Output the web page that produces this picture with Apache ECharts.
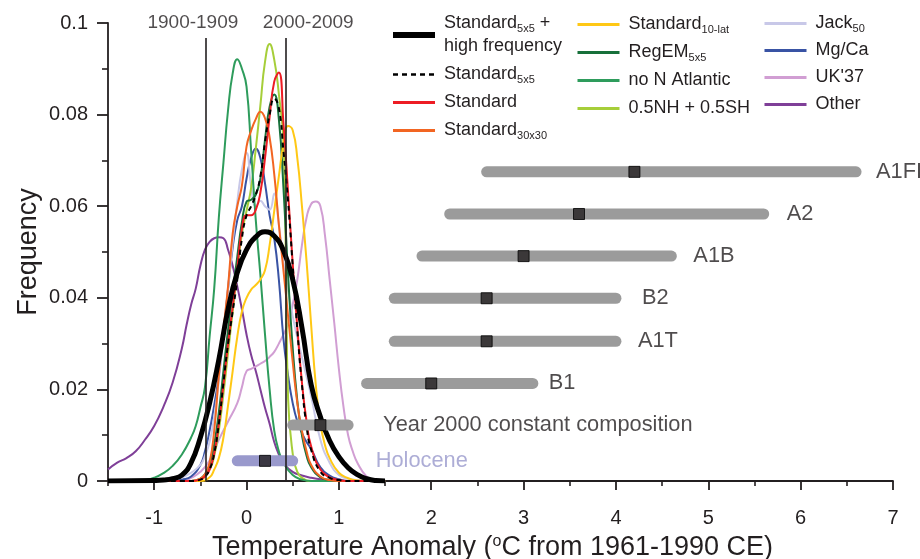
<!DOCTYPE html>
<html><head><meta charset="utf-8">
<script src="https://cdn.jsdelivr.net/npm/echarts@6/dist/echarts.min.js"></script>
<style>html,body{margin:0;padding:0;background:#fff}#c{width:920px;height:559px}</style>
</head><body><div id="c"></div>
<script>
const FONT = '"Liberation Sans", Arial, Helvetica, sans-serif';
const INK = '#231f20';

// ---- distribution curves: [temperature anomaly (°C), frequency] ----
const otherCurve = [[-1.5,0.0025],[-1.4,0.0040],[-1.3,0.0050],[-1.2,0.0065],[-1.1,0.0090],[-1.0,0.0120],[-0.9,0.0162],[-0.8,0.0215],[-0.7,0.0290],[-0.65,0.0340],[-0.6,0.0385],[-0.55,0.0420],[-0.5,0.0470],[-0.45,0.0505],[-0.4,0.0522],[-0.35,0.0530],[-0.3,0.0532],[-0.25,0.0530],[-0.2,0.0505],[-0.15,0.0470],[-0.1,0.0425],[-0.05,0.0375],[0,0.0320],[0.05,0.0275],[0.1,0.0240],[0.15,0.0200],[0.2,0.0160],[0.25,0.0125],[0.3,0.0085],[0.35,0.0058],[0.4,0.0039],[0.5,0.0020],[0.6,0.0012],[0.7,0.0007],[0.8,0.0004],[0.9,0.0001],[1.0,0],[1.5,0]];
const uk37Curve = [[-1.5,0],[-0.7,0],[-0.6,0.0007],[-0.5,0.0020],[-0.4,0.0045],[-0.3,0.0090],[-0.2,0.0130],[-0.1,0.0170],[-0.05,0.0205],[0,0.0240],[0.05,0.0245],[0.1,0.0250],[0.15,0.0256],[0.2,0.0262],[0.25,0.0271],[0.3,0.0282],[0.35,0.0300],[0.4,0.0320],[0.45,0.0344],[0.5,0.0385],[0.55,0.0440],[0.6,0.0515],[0.65,0.0575],[0.7,0.0605],[0.75,0.0610],[0.8,0.0600],[0.85,0.0535],[0.9,0.0440],[0.95,0.0345],[1.0,0.0245],[1.05,0.0162],[1.1,0.0100],[1.15,0.0065],[1.2,0.0040],[1.3,0.0010],[1.4,0.0001],[1.5,0]];
const mgcaCurve = [[-1.5,0],[-0.8,0],[-0.7,0.0003],[-0.6,0.0010],[-0.5,0.0035],[-0.45,0.0065],[-0.4,0.0110],[-0.35,0.0165],[-0.3,0.0230],[-0.25,0.0320],[-0.2,0.0420],[-0.15,0.0510],[-0.1,0.0570],[-0.05,0.0600],[0,0.0660],[0.05,0.0705],[0.1,0.0726],[0.15,0.0705],[0.2,0.0650],[0.25,0.0580],[0.3,0.0530],[0.35,0.0440],[0.4,0.0310],[0.45,0.0230],[0.5,0.0170],[0.55,0.0130],[0.6,0.0105],[0.65,0.0085],[0.7,0.0070],[0.8,0.0030],[0.9,0.0012],[1.0,0.0004],[1.1,0],[1.5,0]];
const jackCurve = [[-1.5,0],[-0.9,0],[-0.8,0.0002],[-0.7,0.0008],[-0.6,0.0018],[-0.5,0.0035],[-0.45,0.0055],[-0.4,0.0085],[-0.35,0.0140],[-0.3,0.0220],[-0.25,0.0320],[-0.2,0.0420],[-0.15,0.0520],[-0.1,0.0610],[-0.05,0.0680],[0,0.0716],[0.05,0.0643],[0.1,0.0600],[0.15,0.0612],[0.2,0.0600],[0.25,0.0592],[0.3,0.0628],[0.35,0.0560],[0.4,0.0480],[0.5,0.0360],[0.6,0.0270],[0.7,0.0185],[0.8,0.0090],[0.9,0.0040],[1.0,0.0013],[1.1,0.0005],[1.2,0.0002],[1.3,0],[1.5,0]];
const nhshCurve = [[-1.5,0],[-0.6,0],[-0.5,0.0003],[-0.4,0.0025],[-0.35,0.0055],[-0.3,0.0110],[-0.25,0.0190],[-0.2,0.0280],[-0.15,0.0370],[-0.1,0.0460],[-0.05,0.0540],[0,0.0590],[0.05,0.0640],[0.1,0.0725],[0.15,0.0820],[0.2,0.0915],[0.25,0.0954],[0.3,0.0920],[0.35,0.0845],[0.4,0.0740],[0.425,0.0500],[0.45,0.0180],[0.5,0.0060],[0.55,0.0020],[0.6,0.0007],[0.7,0],[1.5,0]];
const noNAtlCurve = [[-1.5,0],[-1.2,0],[-1.1,0.0002],[-1.0,0.0007],[-0.9,0.0017],[-0.8,0.0033],[-0.7,0.0058],[-0.6,0.0095],[-0.55,0.0120],[-0.5,0.0160],[-0.45,0.0205],[-0.4,0.0315],[-0.35,0.0420],[-0.3,0.0575],[-0.25,0.0695],[-0.2,0.0810],[-0.15,0.0890],[-0.1,0.0921],[-0.05,0.0900],[0,0.0861],[0.05,0.0720],[0.1,0.0570],[0.15,0.0450],[0.2,0.0320],[0.25,0.0200],[0.3,0.0110],[0.35,0.0065],[0.4,0.0040],[0.5,0.0013],[0.6,0.0003],[0.7,0],[1.5,0]];
const regemCurve = [[-1.5,0],[-0.6,0],[-0.5,0.0005],[-0.45,0.0015],[-0.4,0.0035],[-0.35,0.0080],[-0.3,0.0150],[-0.25,0.0240],[-0.2,0.0330],[-0.15,0.0410],[-0.1,0.0490],[-0.05,0.0565],[0,0.0610],[0.05,0.0614],[0.1,0.0625],[0.15,0.0660],[0.2,0.0745],[0.25,0.0817],[0.3,0.0844],[0.35,0.0790],[0.4,0.0640],[0.45,0.0450],[0.5,0.0290],[0.55,0.0175],[0.6,0.0100],[0.65,0.0055],[0.7,0.0030],[0.8,0.0008],[0.9,0.0002],[1.0,0],[1.5,0]];
const std10latCurve = [[-1.5,0],[-0.5,0],[-0.4,0.0008],[-0.35,0.0025],[-0.3,0.0050],[-0.25,0.0095],[-0.2,0.0165],[-0.15,0.0240],[-0.1,0.0315],[-0.05,0.0370],[0,0.0400],[0.05,0.0418],[0.1,0.0428],[0.15,0.0440],[0.2,0.0460],[0.25,0.0515],[0.3,0.0590],[0.35,0.0665],[0.4,0.0737],[0.45,0.0775],[0.5,0.0766],[0.55,0.0705],[0.6,0.0600],[0.65,0.0480],[0.7,0.0340],[0.75,0.0210],[0.8,0.0125],[0.85,0.0078],[0.9,0.0050],[1.0,0.0018],[1.1,0.0006],[1.2,0.0001],[1.3,0],[1.5,0]];
const std30Curve = [[-1.5,0],[-0.6,0],[-0.5,0.0005],[-0.45,0.0015],[-0.4,0.0040],[-0.35,0.0110],[-0.3,0.0230],[-0.25,0.0330],[-0.2,0.0425],[-0.15,0.0540],[-0.1,0.0600],[-0.05,0.0645],[0,0.0730],[0.05,0.0765],[0.1,0.0790],[0.15,0.0806],[0.2,0.0792],[0.25,0.0750],[0.3,0.0670],[0.35,0.0560],[0.4,0.0460],[0.45,0.0360],[0.5,0.0260],[0.55,0.0170],[0.6,0.0110],[0.65,0.0065],[0.7,0.0035],[0.8,0.0010],[0.9,0.0002],[1.0,0],[1.5,0]];
const standardCurve = [[-1.5,0],[-0.6,0],[-0.5,0.0003],[-0.45,0.0010],[-0.4,0.0025],[-0.35,0.0060],[-0.3,0.0125],[-0.25,0.0210],[-0.2,0.0300],[-0.15,0.0380],[-0.1,0.0465],[-0.05,0.0550],[0,0.0580],[0.05,0.0580],[0.1,0.0592],[0.15,0.0630],[0.2,0.0705],[0.25,0.0795],[0.3,0.0872],[0.35,0.0892],[0.4,0.0780],[0.45,0.0630],[0.5,0.0475],[0.55,0.0335],[0.6,0.0215],[0.65,0.0130],[0.7,0.0075],[0.8,0.0025],[0.9,0.0008],[1.0,0.0002],[1.1,0],[1.5,0]];
const std5x5Curve = [[-1.5,0],[-0.6,0],[-0.5,0.0003],[-0.45,0.0010],[-0.4,0.0025],[-0.35,0.0060],[-0.3,0.0125],[-0.25,0.0215],[-0.2,0.0300],[-0.15,0.0370],[-0.1,0.0440],[-0.05,0.0530],[0,0.0580],[0.05,0.0600],[0.1,0.0625],[0.15,0.0665],[0.2,0.0740],[0.25,0.0800],[0.3,0.0835],[0.35,0.0815],[0.4,0.0720],[0.45,0.0610],[0.5,0.0470],[0.55,0.0330],[0.6,0.0210],[0.65,0.0120],[0.7,0.0068],[0.8,0.0020],[0.9,0.0007],[1.0,0.0002],[1.1,0],[1.5,0]];
const std5x5HFCurve = [[-1.5,0],[-1.0,0.0001],[-0.9,0.0002],[-0.8,0.0005],[-0.7,0.0013],[-0.6,0.0040],[-0.5,0.0095],[-0.4,0.0170],[-0.3,0.0265],[-0.2,0.0375],[-0.1,0.0455],[0,0.0505],[0.1,0.0533],[0.2,0.0544],[0.3,0.0535],[0.4,0.0503],[0.5,0.0440],[0.6,0.0335],[0.7,0.0210],[0.8,0.0140],[0.9,0.0088],[1.0,0.0053],[1.1,0.0029],[1.2,0.0014],[1.3,0.0005],[1.4,0.0001],[1.5,0]];

// ---- decade reference lines ----
const decadeLabels = ['1900-1909', '2000-2009'];
const decadeAnomaly = [-0.44, 0.43];

// ---- projections / ranges (°C) ----
const scenarioNames = ['A1FI', 'A2', 'A1B', 'B2', 'A1T', 'B1', 'Year 2000 constant composition', 'Holocene'];
const scenarioLow  = [2.6, 2.2, 1.9, 1.6, 1.6, 1.3, 0.5, -0.1];
const scenarioBest = [4.2, 3.6, 3.0, 2.6, 2.6, 2.0, 0.8, 0.2];
const scenarioHigh = [6.6, 5.6, 4.6, 4.0, 4.0, 3.1, 1.1, 0.5];
const scenarioRow  = [0.0675, 0.0583, 0.0491, 0.0399, 0.0305, 0.0213, 0.0122, 0.0044];

// ---- axis ticks ----
const xMajorTicks = [-1, 0, 1, 2, 3, 4, 5, 6, 7];
const xMinorTicks = [-1.5, -0.5, 0.5, 1.5, 2.5, 3.5, 4.5, 5.5, 6.5];

// ---- styles ----
const curveDefs = [
  ['Other', otherCurve, '#7f3f98', 2, 'solid'],
  ["UK'37", uk37Curve, '#d19ed3', 2, 'solid'],
  ['Mg/Ca', mgcaCurve, '#3953a4', 2, 'solid'],
  ['Jack50', jackCurve, '#c8c8e8', 2, 'solid'],
  ['0.5NH + 0.5SH', nhshCurve, '#a6ce39', 2, 'solid'],
  ['no N Atlantic', noNAtlCurve, '#2e9c5c', 2, 'solid'],
  ['RegEM5x5', regemCurve, '#17703a', 2, 'solid'],
  ['Standard10-lat', std10latCurve, '#ffc815', 2, 'solid'],
  ['Standard30x30', std30Curve, '#f26522', 2, 'solid'],
  ['Standard', standardCurve, '#ed1c24', 2, 'solid'],
  ['Standard5x5', std5x5Curve, '#000000', 2, [5, 4]],
  ['Standard5x5 + high frequency', std5x5HFCurve, '#000000', 5, 'solid']
];
const legendRich = {
  'Standard5x5 + high frequency': 'Standard{s|5x5} +\nhigh frequency',
  'Standard5x5': 'Standard{s|5x5}',
  'Standard30x30': 'Standard{s|30x30}',
  'Standard10-lat': 'Standard{s|10-lat}',
  'RegEM5x5': 'RegEM{s|5x5}',
  'Jack50': 'Jack{s|50}'
};
const labelGap = [20, 23, 22, 26, 22, 16, 35, 83];
const barColor = ['#9b9b9b','#9b9b9b','#9b9b9b','#9b9b9b','#9b9b9b','#9b9b9b','#9b9b9b','#9999cc'];
const labelColor = [INK, INK, INK, INK, INK, INK, INK, '#9999cc'];

const series = [];
curveDefs.forEach(function (d) {
  series.push({
    type: 'line', name: d[0], data: d[1], symbol: 'none', smooth: 0.5,
    lineStyle: { color: d[2], width: d[3], type: d[4], join: 'round' }, itemStyle: { color: d[2] },
    z: 3, silent: true, clip: true
  });
});
scenarioNames.forEach(function (n, i) {
  series.push({
    type: 'line', name: '_bar' + i, symbol: 'none', silent: true, z: 4,
    data: [[scenarioLow[i], scenarioRow[i]], [scenarioHigh[i], scenarioRow[i]]],
    lineStyle: { color: barColor[i], width: 11, cap: 'round' }
  });
});
series.push({
  type: 'scatter', name: '_best', symbol: 'rect', symbolSize: 11, z: 5, silent: true,
  itemStyle: { color: INK, borderColor: '#000', borderWidth: 1 },
  data: scenarioBest.map(function (v, i) { return [v, scenarioRow[i]]; })
});
series.push({
  type: 'scatter', name: '_labels', symbolSize: 0, z: 5, silent: true,
  data: scenarioNames.map(function (n, i) {
    return {
      value: [scenarioHigh[i], scenarioRow[i]],
      label: { show: true, position: 'right', distance: labelGap[i], formatter: n,
               color: labelColor[i], fontSize: 21.8, fontFamily: FONT }
    };
  })
});
series.push({
  type: 'scatter', name: '_decades', symbolSize: 0, z: 6, silent: true,
  data: decadeLabels.map(function (n, i) {
    return {
      value: [decadeAnomaly[i], 0.0967],
      label: { show: true, position: 'top', distance: 6, formatter: n, color: INK,
               fontSize: 19, fontFamily: FONT,
               padding: i === 0 ? [0, 26, 0, 0] : [0, 0, 0, 44] }
    };
  }),
  markLine: {
    silent: true, symbol: 'none', label: { show: false },
    lineStyle: { color: INK, width: 1.6, type: 'solid' },
    data: decadeAnomaly.map(function (v) { return [{ coord: [v, 0] }, { coord: [v, 0.0967] }]; })
  }
});

function legendBlock(names, left, top, gap) {
  return {
    orient: 'vertical', left: left, top: top, padding: 0, itemGap: gap,
    itemWidth: 42, itemHeight: 14, selectedMode: false,
    itemStyle: { opacity: 0 },
    data: names.map(function (n) {
      const item = { name: n, itemStyle: { opacity: 0 } };
      if (n === 'Standard5x5 + high frequency') item.lineStyle = { width: 6 };
      else if (n === 'Standard5x5') item.lineStyle = { width: 2.5 };
      else item.lineStyle = { width: 3 };
      return item;
    }),
    formatter: function (n) { return legendRich[n] || n; },
    textStyle: {
      color: INK, fontSize: 18, lineHeight: 23, fontFamily: FONT, padding: [0, 0, 0, 4],
      rich: { s: { fontSize: 11, verticalAlign: 'bottom', fontFamily: FONT, color: INK, padding: [0, 0, 1, 0] } }
    }
  };
}

const option = {
  backgroundColor: '#fff',
  animation: false,
  textStyle: { fontFamily: FONT },
  grid: { left: 108, right: 27, top: 23, bottom: 78, containLabel: false, outerBoundsMode: 'none' },
  legend: [
    legendBlock(['Standard5x5 + high frequency', 'Standard5x5', 'Standard', 'Standard30x30'], 390, 12, 5),
    legendBlock(['Standard10-lat', 'RegEM5x5', 'no N Atlantic', '0.5NH + 0.5SH'], 576, 13, 5),
    legendBlock(['Jack50', 'Mg/Ca', "UK'37", 'Other'], 763, 12, 4)
  ],
  xAxis: [{
    type: 'value', min: -1.5, max: 7, interval: 0.5,
    name: 'Temperature Anomaly ({sup|o}C from 1961-1990 CE)',
    nameLocation: 'middle', nameGap: 53, nameMoveOverlap: false,
    nameTextStyle: { color: INK, fontSize: 27, fontFamily: FONT, padding: [0, 16, 0, 0],
      rich: { sup: { fontSize: 16, verticalAlign: 'top', fontFamily: FONT, color: INK } } },
    axisLine: { show: true, onZero: false, lineStyle: { color: INK, width: 1.8 } },
    axisTick: { show: true, inside: false, length: 9, customValues: xMajorTicks, lineStyle: { color: INK, width: 1.8 } },
    axisLabel: { show: true, customValues: xMajorTicks, margin: 27, color: INK, fontSize: 20, fontFamily: FONT },
    splitLine: { show: false }
  }, {
    type: 'value', min: -1.5, max: 7, interval: 0.5, position: 'bottom',
    axisLine: { show: false, onZero: false },
    axisTick: { show: true, length: 5, customValues: xMinorTicks, lineStyle: { color: INK, width: 1.6 } },
    axisLabel: { show: false }, splitLine: { show: false }
  }],
  yAxis: {
    type: 'value', min: 0, max: 0.1, interval: 0.02,
    name: 'Frequency', nameLocation: 'middle', nameGap: 66, nameRotate: 90, nameMoveOverlap: false,
    nameTextStyle: { color: INK, fontSize: 27, fontFamily: FONT },
    axisLine: { show: true, onZero: false, lineStyle: { color: INK, width: 1.8 } },
    axisTick: { show: true, length: 11, lineStyle: { color: INK, width: 1.8 } },
    minorTick: { show: true, splitNumber: 2, length: 6, lineStyle: { color: INK, width: 1.6 } },
    axisLabel: { margin: 20, color: INK, fontSize: 20, fontFamily: FONT,
      formatter: function (v) { return v === 0 ? '0' : String(+v.toFixed(2)); } },
    splitLine: { show: false }, minorSplitLine: { show: false }
  },
  series: series
};

const chart = echarts.init(document.getElementById('c'));
chart.setOption(option);
</script>
</body></html>
